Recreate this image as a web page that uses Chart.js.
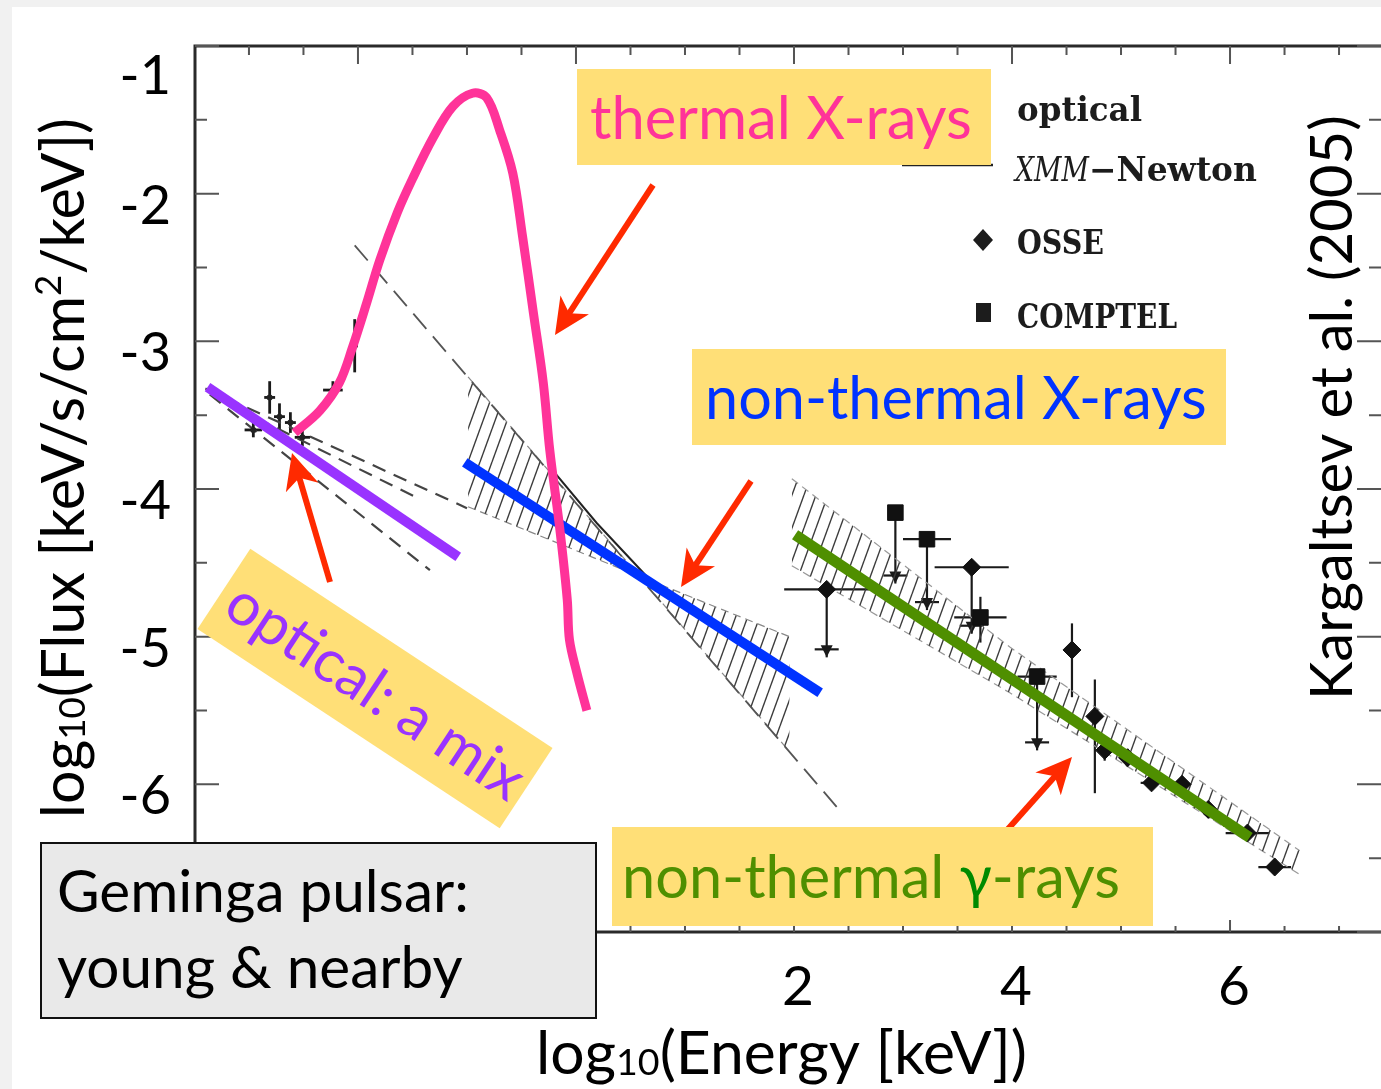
<!DOCTYPE html>
<html>
<head>
<meta charset="utf-8">
<script src="https://cdn.jsdelivr.net/npm/chart.js@4.4.1/dist/chart.umd.min.js"></script>
<style>
  html, body { margin: 0; padding: 0; background: #fff; }
  canvas { display: block; }
</style>
</head>
<body>
<canvas id="sed" width="1381" height="1089"></canvas>
<script>
// axis ranges (log10 keV, log10 flux)
const xRange = [-3.495, 7.385];
const yRange = [-7, -1];
const xTickValues = [2, 4, 6];
const xTickLabels = ['2', '4', '6'];
const yTickValues = [-1, -2, -3, -4, -5, -6];
const yTickLabels = ['-1', '-2', '-3', '-4', '-5', '-6'];

// thermal X-ray bump (pink, hand drawn on the slide)
const thermalX = [-2.58, -2.35, -2.17, -2.05, -1.92, -1.80, -1.64, -1.50, -1.31, -1.13, -0.95, -0.82,
                  -0.70, -0.58, -0.49, -0.39, -0.30, -0.24, -0.15, -0.08, -0.06, 0.01, 0.10];
const thermalY = [-3.62, -3.47, -3.28, -3.04, -2.74, -2.45, -2.13, -1.90, -1.62, -1.41, -1.32, -1.35,
                  -1.57, -1.86, -2.29, -2.81, -3.28, -3.74, -4.26, -4.75, -5.02, -5.25, -5.50];

// straight overlay fits
const opticalFitX = [-3.38, -1.08];
const opticalFitY = [-3.31, -4.46];
const xrayFitX = [-1.02, 2.24];
const xrayFitY = [-3.82, -5.38];
const gammaFitX = [2.01, 6.18];
const gammaFitY = [-4.31, -6.36];

// XMM power-law bowtie
const bowX = [-0.99, 0.58, 1.96];
const bowUpper = [-3.24, -4.59, -5.00];
const bowLower = [-4.12, -4.59, -5.78];
// XMM spectrum (solid) and extrapolation (dashed)
const xmmX = [-0.24, 0.19, 0.71];
const xmmY = [-3.85, -4.23, -4.64];
const extrapX = [-2.03, 2.40];
const extrapY = [-2.35, -6.16];

// gamma-ray band
const gBandX = [1.98, 3.98, 6.64];
const gBandUpper = [-3.93, -5.07, -6.45];
const gBandLower = [-4.52, -5.38, -6.61];

// optical fits (dashed)
const optDash1X = [-3.40, -1.00], optDash1Y = [-3.32, -4.13];
const optDash2X = [-3.31, -1.43], optDash2Y = [-3.38, -4.07];
const optDash3X = [-3.36, -1.34], optDash3Y = [-3.36, -4.55];

// optical / UV points
const optX    = [-2.96, -2.81, -2.72, -2.62, -2.51, -2.23, -2.03];
const optY    = [-3.60, -3.38, -3.51, -3.55, -3.65, -3.33, -3.03];
const optXErr = [0.08, 0.05, 0.05, 0.05, 0.07, 0.09, 0.03];
const optYErr = [0.05, 0.11, 0.09, 0.07, 0.06, 0.06, 0.18];

// OSSE (diamonds)
const osseX    = [2.30, 3.63, 4.55, 4.76, 4.85, 5.06, 5.28, 5.56, 5.80, 6.16, 6.41];
const osseY    = [-4.68, -4.53, -5.09, -5.54, -5.77, -5.82, -5.99, -6.00, -6.17, -6.33, -6.56];
const osseXErr = [0.39, 0.34, 0, 0, 0, 0, 0.10, 0, 0, 0.20, 0.15];
const osseYLo  = [-5.14, -4.98, -5.41, -6.06, -5.84, -5.88, -6.03, -6.05, -6.22, -6.37, -6.60];
const osseYHi  = [-4.68, -4.53, -4.91, -5.29, -5.70, -5.76, -5.95, -5.96, -6.13, -6.29, -6.52];
const osseUL   = [true, true, false, false, false, false, false, false, false, false, false];

// COMPTEL (squares)
const comptelX    = [2.93, 3.22, 3.71, 4.23];
const comptelY    = [-4.16, -4.34, -4.87, -5.27];
const comptelXErr = [0, 0.22, 0.24, 0.18];
const comptelYLo  = [-4.64, -4.82, -5.04, -5.77];
const comptelYHi  = [-4.16, -4.34, -4.73, -5.27];
const comptelUL   = [true, true, false, true];

const PINK = '#ff3399', PURPLE = '#9933ff', BLUE = '#0033ff', GREEN = '#4f8f00';
const YELLOW = '#ffdf77', RED = '#ff2a00';
const SANS = 'Lato';
const SERIF = 'DejaVu Serif';

const pts = (xs, ys) => xs.map((x, i) => ({ x: x, y: ys[i] }));

function hatchPattern(color) {
    const w = 12, h = 33;
    const c = document.createElement('canvas');
    c.width = w; c.height = h;
    const g = c.getContext('2d');
    g.strokeStyle = color;
    g.lineWidth = 1.4;
    for (const k of [-1, 0, 1]) {
        g.beginPath();
        g.moveTo(k * w, h);
        g.lineTo(k * w + w, 0);
        g.stroke();
    }
    return g.createPattern(c, 'repeat');
}

function fitSize(ctx, text, width, font) {
    ctx.font = font.replace('SIZE', '100px');
    return 100 * width / ctx.measureText(text).width;
}

// draw text at a given font, squeezed/stretched to an exact width
function drawStretched(c, text, x, y, width, font) {
    c.save();
    c.font = font;
    const w = c.measureText(text).width;
    c.translate(x, y);
    c.scale(width / w, 1);
    c.fillText(text, 0, 0);
    c.restore();
}

// parts: [text, relative size, baseline shift in em]
function richDraw(ctx, parts, x, y, size, family, measureOnly) {
    let cx = x;
    for (const [t, s, dy] of parts) {
        ctx.font = `${size * s}px ${family}`;
        if (!measureOnly) ctx.fillText(t, cx, y + dy * size);
        cx += ctx.measureText(t).width;
    }
    return cx - x;
}

function richFit(ctx, parts, width, family) {
    return 100 * width / richDraw(ctx, parts, 0, 0, 100, family, true);
}

function arrow(c, x1, y1, x2, y2) {
    const a = Math.atan2(y2 - y1, x2 - x1);
    const hl = 36, hw = 17, lw = 6;
    const ca = Math.cos(a), sa = Math.sin(a);
    c.save();
    c.strokeStyle = RED; c.fillStyle = RED; c.lineWidth = lw;
    c.beginPath();
    c.moveTo(x1, y1);
    c.lineTo(x2 - hl * 0.6 * ca, y2 - hl * 0.6 * sa);
    c.stroke();
    const bx = x2 - hl * ca, by = y2 - hl * sa;
    c.beginPath();
    c.moveTo(x2, y2);
    c.lineTo(bx - hw * sa, by + hw * ca);
    c.lineTo(x2 - hl * 0.72 * ca, y2 - hl * 0.72 * sa);
    c.lineTo(bx + hw * sa, by - hw * ca);
    c.closePath();
    c.fill();
    c.restore();
}

function errorBars(c, X, Y, xs, ys, xe, yLo, yHi, ul, lw) {
    c.save();
    c.strokeStyle = '#1a1a1a'; c.fillStyle = '#1a1a1a';
    c.lineWidth = lw;
    for (let i = 0; i < xs.length; i++) {
        const px = X(xs[i]), py = Y(ys[i]);
        if (xe[i] > 0) {
            c.beginPath(); c.moveTo(X(xs[i] - xe[i]), py); c.lineTo(X(xs[i] + xe[i]), py); c.stroke();
        }
        const lo = Y(yLo[i]), hi = Y(yHi[i]);
        c.beginPath(); c.moveTo(px, hi); c.lineTo(px, lo); c.stroke();
        if (ul[i]) {
            c.beginPath();
            c.moveTo(px - 6, lo - 12); c.lineTo(px + 6, lo - 12); c.lineTo(px, lo); c.closePath();
            c.fill();
            c.beginPath(); c.moveTo(px - 12, lo - 8); c.lineTo(px + 12, lo - 8); c.stroke();
        }
    }
    c.restore();
}

const overlay = {
    id: 'overlay',
    beforeDraw(chart) {
        const c = chart.ctx;
        c.save();
        c.fillStyle = '#f1f1f1';
        c.fillRect(0, 0, chart.width, chart.height);
        c.fillStyle = '#ffffff';
        c.fillRect(12, 7, chart.width, chart.height);
        c.restore();
    },
    beforeDatasetsDraw(chart) {
        const c = chart.ctx;
        const X = v => chart.scales.x.getPixelForValue(v);
        const Y = v => chart.scales.y.getPixelForValue(v);
        const a = chart.chartArea;
        c.save();
        c.beginPath(); c.rect(a.left, a.top, a.right - a.left, a.bottom - a.top); c.clip();
        errorBars(c, X, Y, optX, optY, optXErr,
            optY.map((y, i) => y - optYErr[i]), optY.map((y, i) => y + optYErr[i]), optX.map(() => false), 2.8);
        errorBars(c, X, Y, osseX, osseY, osseXErr, osseYLo, osseYHi, osseUL, 2.2);
        errorBars(c, X, Y, comptelX, comptelY, comptelXErr, comptelYLo, comptelYHi, comptelUL, 2.2);
        c.restore();
    },
    afterDraw(chart) {
        const c = chart.ctx;
        const X = v => chart.scales.x.getPixelForValue(v);
        const Y = v => chart.scales.y.getPixelForValue(v);
        const a = chart.chartArea;
        c.save();

        // frame (right edge runs off the slide)
        c.strokeStyle = '#2a2a2a';
        c.lineWidth = 3;
        c.beginPath();
        c.moveTo(a.left, a.bottom); c.lineTo(a.left, a.top); c.lineTo(a.right, a.top);
        c.moveTo(a.left, a.bottom); c.lineTo(a.right, a.bottom);
        c.stroke();

        // inward ticks
        c.strokeStyle = '#555'; c.lineWidth = 2;
        for (let v = yRange[0]; v <= yRange[1]; v += 0.5) {
            const py = Y(v), len = Number.isInteger(v) ? 24 : 12;
            c.beginPath();
            c.moveTo(a.left, py); c.lineTo(a.left + len, py);
            c.moveTo(a.right, py); c.lineTo(a.right - len, py);
            c.stroke();
        }
        for (let v = Math.ceil(xRange[0] * 2) / 2; v <= xRange[1]; v += 0.5) {
            const px = X(v), major = Math.abs(v % 2) < 1e-9;
            c.beginPath();
            c.moveTo(px, a.top); c.lineTo(px, a.top + (major ? 18 : 9));
            c.moveTo(px, a.bottom); c.lineTo(px, a.bottom - (major ? 12 : 6));
            c.stroke();
        }

        // tick labels
        c.fillStyle = '#000';
        c.font = `54px ${SANS}`;
        c.textAlign = 'right'; c.textBaseline = 'alphabetic';
        yTickValues.forEach((v, i) => {
            c.fillText(yTickLabels[i], 171, Math.max(Y(v) + 30, a.top + 48));
        });
        c.textAlign = 'center';
        c.font = `55px ${SANS}`;
        xTickValues.forEach((v, i) => c.fillText(xTickLabels[i], X(v) + 4, 1005));
        c.textAlign = 'left';

        // legend of the original figure
        c.fillStyle = '#1c1c1c';
        const lf = `bold 33px ${SERIF}`;
        drawStretched(c, 'optical', 1017, 121, 125, lf);
        drawStretched(c, 'OSSE', 1017, 254, 87, lf);
        drawStretched(c, 'COMPTEL', 1017, 328, 160, lf);
        drawStretched(c, 'XMM', 1015, 181, 74, `italic 33px ${SERIF}`);
        drawStretched(c, '\u2212Newton', 1089, 181, 168, lf);
        c.strokeStyle = '#222'; c.lineWidth = 2.5;
        c.beginPath(); c.moveTo(902, 165); c.lineTo(993, 165); c.stroke();
        c.beginPath();
        c.moveTo(983, 229); c.lineTo(993, 240); c.lineTo(983, 251); c.lineTo(973, 240); c.closePath();
        c.fill();
        c.fillRect(976, 303, 15, 19);

        // red arrows
        arrow(c, 653, 185, 555, 335);
        arrow(c, 330, 582, 292, 453);
        arrow(c, 751, 481, 681, 587);
        arrow(c, 1000, 838, 1072, 757);

        // yellow label boxes
        c.fillStyle = YELLOW;
        c.fillRect(577, 69, 414, 96);
        c.fillRect(692, 349, 534, 96);
        c.fillRect(612, 827, 541, 99);

        let s = fitSize(c, 'thermal X-rays', 382, `SIZE ${SANS}`);
        c.font = `${s}px ${SANS}`; c.fillStyle = PINK;
        c.fillText('thermal X-rays', 590, 139);

        s = fitSize(c, 'non-thermal X-rays', 502, `SIZE ${SANS}`);
        c.font = `${s}px ${SANS}`; c.fillStyle = BLUE;
        c.fillText('non-thermal X-rays', 705, 419);

        s = fitSize(c, 'non-thermal \u03b3-rays', 498, `SIZE ${SANS}`);
        c.font = `${s}px ${SANS}`;
        let gx = 622;
        c.fillStyle = GREEN; c.fillText('non-thermal ', gx, 898);
        gx += c.measureText('non-thermal ').width;
        c.fillStyle = '#008a00'; c.fillText('\u03b3', gx, 898);
        gx += c.measureText('\u03b3').width;
        c.fillStyle = GREEN; c.fillText('-rays', gx, 898);

        // rotated optical label
        c.save();
        c.translate(375, 688.5);
        c.rotate(33.4 * Math.PI / 180);
        c.fillStyle = YELLOW;
        c.fillRect(-181, -48, 362, 96);
        s = fitSize(c, 'optical: a mix', 344, `SIZE ${SANS}`);
        c.font = `${s}px ${SANS}`; c.fillStyle = PURPLE;
        c.textAlign = 'center';
        c.fillText('optical: a mix', 2, 22);
        c.restore();

        // Geminga box
        c.fillStyle = '#e9e9e9';
        c.fillRect(41, 843, 555, 175);
        c.strokeStyle = '#111'; c.lineWidth = 2;
        c.strokeRect(41, 843, 555, 175);
        s = fitSize(c, 'Geminga pulsar:', 412, `SIZE ${SANS}`);
        c.font = `${s}px ${SANS}`; c.fillStyle = '#000';
        c.fillText('Geminga pulsar:', 57, 912);
        c.fillText('young & nearby', 57, 988);

        // axis titles
        const xt = [['log', 1, 0], ['10', 0.62, 0.02], ['(Energy [keV])', 1, 0]];
        s = richFit(c, xt, 491, SANS);
        c.fillStyle = '#000';
        richDraw(c, xt, 536, 1074, s, SANS, false);

        const yt = [['log', 1, 0], ['10', 0.62, 0.02], ['(Flux [keV/s/cm', 1, 0], ['2', 0.62, -0.38], ['/keV])', 1, 0]];
        s = richFit(c, yt, 700, SANS);
        c.save();
        c.translate(84, 818);
        c.rotate(-Math.PI / 2);
        richDraw(c, yt, 0, 0, s, SANS, false);
        c.restore();

        // citation
        s = fitSize(c, 'Kargaltsev et al. (2005)', 585, `SIZE ${SANS}`);
        c.save();
        c.translate(1352, 700);
        c.rotate(-Math.PI / 2);
        c.font = `${s}px ${SANS}`;
        c.fillText('Kargaltsev et al. (2005)', 0, 0);
        c.restore();

        c.restore();
    }
};

const ctx = document.getElementById('sed').getContext('2d');
const hatch = hatchPattern('#3c3c3c');

new Chart(ctx, {
    type: 'scatter',
    data: {
        datasets: [
            { label: 'thermal X-rays', data: pts(thermalX, thermalY), showLine: true, borderColor: PINK,
              borderWidth: 9, pointRadius: 0, tension: 0.35, borderCapStyle: 'butt', order: 0 },
            { label: 'optical fit', data: pts(opticalFitX, opticalFitY), showLine: true, borderColor: PURPLE,
              borderWidth: 10, pointRadius: 0, order: 1 },
            { label: 'X-ray fit', data: pts(xrayFitX, xrayFitY), showLine: true, borderColor: BLUE,
              borderWidth: 10, pointRadius: 0, order: 1 },
            { label: 'gamma fit', data: pts(gammaFitX, gammaFitY), showLine: true, borderColor: GREEN,
              borderWidth: 11, pointRadius: 0, order: 1 },
            { label: 'OSSE', data: pts(osseX, osseY), pointStyle: 'rectRot', pointRadius: 9,
              backgroundColor: '#111', borderColor: '#111', borderWidth: 1, order: 4 },
            { label: 'COMPTEL', data: pts(comptelX, comptelY), pointStyle: 'rect', pointRadius: 11,
              backgroundColor: '#111', borderColor: '#111', borderWidth: 1, order: 4 },
            { label: 'optical', data: pts(optX, optY), pointRadius: 3, backgroundColor: '#222',
              borderWidth: 0, order: 4 },
            { label: 'XMM', data: pts(xmmX, xmmY), showLine: true, borderColor: '#222', borderWidth: 2,
              pointRadius: 0, order: 6 },
            { label: 'extrapolation', data: pts(extrapX, extrapY), showLine: true, borderColor: '#555',
              borderWidth: 1.8, borderDash: [20, 10], pointRadius: 0, order: 8 },
            { label: 'opt dash 1', data: pts(optDash1X, optDash1Y), showLine: true, borderColor: '#444',
              borderWidth: 2.2, borderDash: [14, 9], pointRadius: 0, order: 8 },
            { label: 'opt dash 2', data: pts(optDash2X, optDash2Y), showLine: true, borderColor: '#444',
              borderWidth: 2.2, borderDash: [14, 9], pointRadius: 0, order: 8 },
            { label: 'opt dash 3', data: pts(optDash3X, optDash3Y), showLine: true, borderColor: '#444',
              borderWidth: 2.2, borderDash: [14, 9], pointRadius: 0, order: 8 },
            { label: 'bowtie upper', data: pts(bowX, bowUpper), showLine: true, borderColor: '#888',
              borderWidth: 1.2, borderDash: [8, 5], pointRadius: 0, fill: '+1', backgroundColor: hatch, order: 10 },
            { label: 'bowtie lower', data: pts(bowX, bowLower), showLine: true, borderColor: '#888',
              borderWidth: 1.2, borderDash: [8, 5], pointRadius: 0, order: 10 },
            { label: 'band upper', data: pts(gBandX, gBandUpper), showLine: true, borderColor: '#999',
              borderWidth: 1.2, borderDash: [8, 5], pointRadius: 0, fill: '+1', backgroundColor: hatch, order: 10 },
            { label: 'band lower', data: pts(gBandX, gBandLower), showLine: true, borderColor: '#999',
              borderWidth: 1.2, borderDash: [8, 5], pointRadius: 0, order: 10 }
        ]
    },
    options: {
        responsive: false,
        animation: false,
        layout: { autoPadding: false, padding: { left: 195, top: 46, right: 0, bottom: 157 } },
        scales: {
            x: { type: 'linear', min: xRange[0], max: xRange[1], display: false },
            y: { type: 'linear', min: yRange[0], max: yRange[1], display: false }
        },
        plugins: {
            legend: { display: false },
            tooltip: { enabled: false }
        }
    },
    plugins: [overlay]
});
</script>
</body>
</html>
